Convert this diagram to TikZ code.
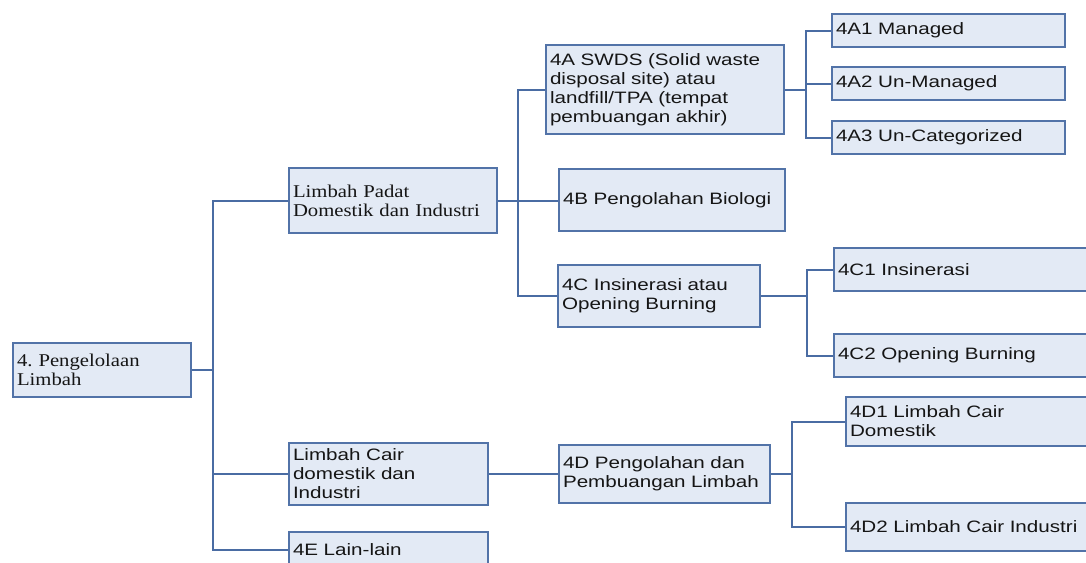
\documentclass[tikz,border=0pt]{standalone}
\usepackage{fontspec}
\frenchspacing
\newfontfamily\boxsans[FakeStretch=1.25]{Liberation Sans}
\newfontfamily\boxserif[FakeStretch=1.15]{Liberation Serif}
\definecolor{boxfill}{HTML}{E3EAF5}
\definecolor{boxline}{HTML}{5273A8}
\definecolor{conn}{HTML}{4A6CA3}
\definecolor{txt}{HTML}{151515}
\tikzset{
  bx/.style={draw=boxline, line width=2pt, fill=boxfill, anchor=north west,
    inner xsep=4pt, inner ysep=0pt, align=left, text=txt},
  sbx/.style={bx, font=\boxsans\fontsize{16.5}{19}\selectfont},
  rbx/.style={bx, font=\boxserif\fontsize{18}{18.7}\selectfont},
  cn/.style={draw=conn, line width=2pt}
}
\begin{document}
\begin{tikzpicture}[x=1pt,y=-1pt]
\useasboundingbox (0,0) rectangle (1086,562);
\clip (0,0) rectangle (1086,562);
% nodes
\node[rbx, minimum width=178pt, minimum height=54pt, text width=170pt] (root) at (12,342) {4. Pengelolaan\\Limbah};
\node[rbx, minimum width=208pt, minimum height=65pt, text width=200pt] (lp) at (288,167) {Limbah Padat\\Domestik dan Industri};
\node[sbx, minimum width=199pt, minimum height=62pt, text width=191pt] (lc) at (288,442) {Limbah Cair\\domestik dan\\Industri};
\node[sbx, minimum width=199pt, minimum height=36pt, text width=191pt] (le) at (288,531) {4E Lain-lain};
\node[sbx, minimum width=238pt, minimum height=89pt, text width=230pt] (a) at (545,44) {4A SWDS (Solid waste\\disposal site) atau\\landfill/TPA (tempat\\pembuangan akhir)};
\node[sbx, minimum width=226pt, minimum height=62pt, text width=218pt] (b) at (558,168) {4B Pengolahan Biologi};
\node[sbx, minimum width=202pt, minimum height=62pt, text width=194pt] (c) at (557,264) {4C Insinerasi atau\\Opening Burning};
\node[sbx, minimum width=211pt, minimum height=58pt, text width=203pt] (d) at (558,444) {4D Pengolahan dan\\Pembuangan Limbah};
\node[sbx, minimum width=233pt, minimum height=33pt, text width=225pt] (a1) at (831,13) {4A1 Managed};
\node[sbx, minimum width=233pt, minimum height=33pt, text width=225pt] (a2) at (831,66) {4A2 Un-Managed};
\node[sbx, minimum width=233pt, minimum height=33pt, text width=225pt] (a3) at (831,120) {4A3 Un-Categorized};
\node[sbx, minimum width=280pt, minimum height=43pt, text width=272pt] (c1) at (833,247) {4C1 Insinerasi};
\node[sbx, minimum width=280pt, minimum height=43pt, text width=272pt] (c2) at (833,333) {4C2 Opening Burning};
\node[sbx, minimum width=280pt, minimum height=49pt, text width=272pt] (d1) at (845,396) {4D1 Limbah Cair\\Domestik};
\node[sbx, minimum width=280pt, minimum height=48pt, text width=272pt] (d2) at (845,502) {4D2 Limbah Cair Industri};
% junctions
\coordinate (j1) at (root.east -| 213,0);
\coordinate (j2) at (lp.east -| 518,0);
\coordinate (j3) at (a.east -| 806,0);
\coordinate (j4) at (c.east -| 807,0);
\coordinate (j5) at (d.east -| 792,0);
% connectors
\draw[cn] (root.east) -- (j1);
\draw[cn] (j1) |- (lp.west);
\draw[cn] (j1) |- (lc.west);
\draw[cn] (j1) |- (le.west);
\draw[cn] (lp.east) -- (lp.east -| b.west);
\draw[cn] (j2) |- (a.west);
\draw[cn] (j2) |- (c.west);
\draw[cn] (a.east) -- (j3);
\draw[cn] (j3) |- (a1.west);
\draw[cn] (j3) |- (a2.west);
\draw[cn] (j3) |- (a3.west);
\draw[cn] (c.east) -- (j4);
\draw[cn] (j4) |- (c1.west);
\draw[cn] (j4) |- (c2.west);
\draw[cn] (lc.east) -- (lc.east -| d.west);
\draw[cn] (d.east) -- (j5);
\draw[cn] (j5) |- (d1.west);
\draw[cn] (j5) |- (d2.west);
\end{tikzpicture}
\end{document}
